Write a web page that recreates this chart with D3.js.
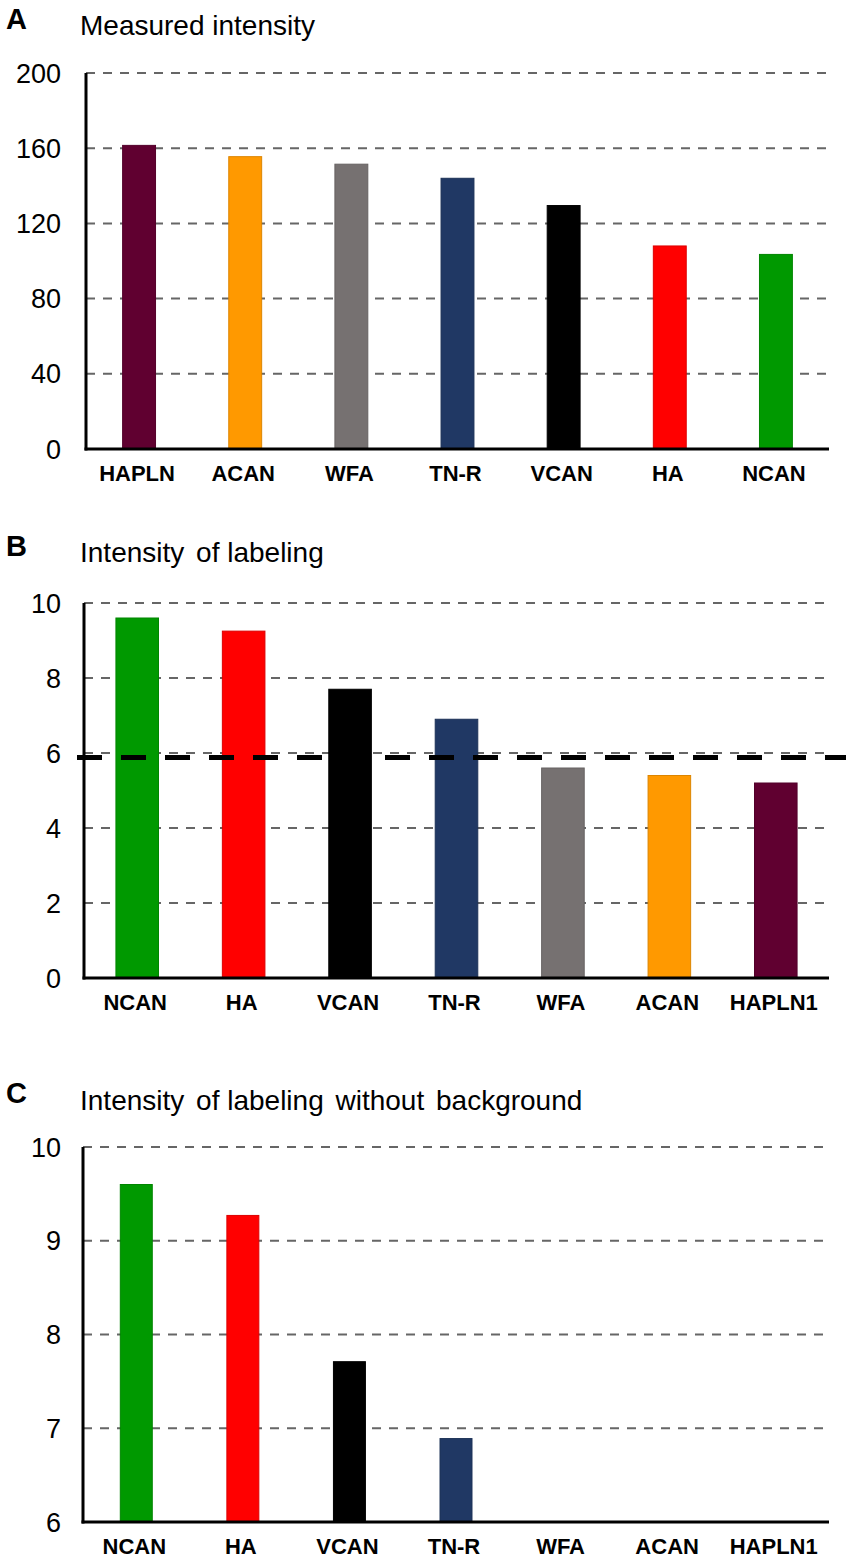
<!DOCTYPE html>
<html>
<head>
<meta charset="utf-8">
<script src="https://cdn.jsdelivr.net/npm/d3@7"></script>
<style>
  body { margin: 0; background: #fff; }
  text { font-family: "Liberation Sans", Arial, sans-serif; }
</style>
</head>
<body>
<div id="chart"></div>
<script>
// Panel A: measured intensity
const catsA = ["HAPLN", "ACAN", "WFA", "TN-R", "VCAN", "HA", "NCAN"];
const valsA = [161.5, 155.5, 151.5, 144, 129.5, 108, 103.5];
const ticksA = [0, 40, 80, 120, 160, 200];

// Panel B: intensity of labeling (with background threshold)
const catsB = ["NCAN", "HA", "VCAN", "TN-R", "WFA", "ACAN", "HAPLN1"];
const valsB = [9.6, 9.25, 7.7, 6.9, 5.6, 5.4, 5.2];
const ticksB = [0, 2, 4, 6, 8, 10];
const thresholdB = 5.88;

// Panel C: intensity of labeling without background
const catsC = ["NCAN", "HA", "VCAN", "TN-R", "WFA", "ACAN", "HAPLN1"];
const valsC = [9.6, 9.27, 7.71, 6.89, 0, 0, 0];
const ticksC = [6, 7, 8, 9, 10];

const colors = {
  HAPLN: "#600030",
  HAPLN1: "#600030",
  ACAN: "#ff9900",
  WFA: "#767171",
  "TN-R": "#203864",
  VCAN: "#000000",
  HA: "#ff0000",
  NCAN: "#009900",
};

const W = 851, H = 1562;
const svg = d3.select("#chart").append("svg")
  .attr("width", W)
  .attr("height", H);

function drawPanel(opt) {
  const g = svg.append("g");
  const x = d3.scaleBand().domain(opt.cats).range([opt.left, 829]);
  const y = d3.scaleLinear().domain(opt.domain).range([opt.bottom, opt.top]);
  const barW = x.step() * opt.barFrac;

  // panel letter + title (title words are split where the original has wide gaps)
  g.append("text")
    .attr("x", 6).attr("y", opt.letterY)
    .attr("font-size", 29).attr("font-weight", "bold")
    .text(opt.letter);
  g.append("text")
    .attr("x", 80).attr("y", opt.titleY)
    .attr("font-size", 28)
    .selectAll("tspan")
    .data(opt.title)
    .enter().append("tspan")
    .attr("dx", (d, i) => (i === 0 ? 0 : 4))
    .text((d, i) => (i === 0 ? d : " " + d));

  // dashed gridlines
  g.selectAll(".grid")
    .data(opt.ticks.filter((t) => t !== opt.domain[0]))
    .enter().append("line")
    .attr("x1", opt.left).attr("x2", 829)
    .attr("y1", (d) => y(d)).attr("y2", (d) => y(d))
    .attr("stroke", "#666")
    .attr("stroke-width", 2)
    .attr("stroke-dasharray", "9,8");

  // tick labels
  g.selectAll(".tick")
    .data(opt.ticks)
    .enter().append("text")
    .attr("x", 61).attr("y", (d) => y(d) + 9.5)
    .attr("text-anchor", "end")
    .attr("font-size", 27)
    .text((d) => d);

  // bars
  g.selectAll(".bar")
    .data(opt.cats.map((c, i) => ({ cat: c, value: opt.vals[i] })))
    .enter().append("rect")
    .attr("x", (d) => x(d.cat) + (x.step() - barW) / 2)
    .attr("y", (d) => y(Math.max(d.value, opt.domain[0])))
    .attr("width", barW)
    .attr("height", (d) => opt.bottom - y(Math.max(d.value, opt.domain[0])))
    .attr("fill", (d) => colors[d.cat])
    .attr("stroke", (d) => d3.color(colors[d.cat]).darker(0.4))
    .attr("stroke-width", 1);

  // threshold line
  if (opt.threshold !== undefined) {
    g.append("line")
      .attr("x1", 77).attr("x2", 846)
      .attr("y1", y(opt.threshold)).attr("y2", y(opt.threshold))
      .attr("stroke", "#000")
      .attr("stroke-width", 5)
      .attr("stroke-dasharray", "25,19");
  }

  // axes
  g.append("line")
    .attr("x1", opt.left).attr("x2", opt.left)
    .attr("y1", opt.top).attr("y2", opt.bottom + 1.5)
    .attr("stroke", "#000").attr("stroke-width", 3);
  g.append("line")
    .attr("x1", opt.left - 1.5).attr("x2", 829)
    .attr("y1", opt.bottom).attr("y2", opt.bottom)
    .attr("stroke", "#000").attr("stroke-width", 3);

  // category labels
  g.selectAll(".cat")
    .data(opt.cats)
    .enter().append("text")
    .attr("x", (d) => x(d) + x.step() / 2 - 2)
    .attr("y", opt.bottom + 32)
    .attr("text-anchor", "middle")
    .attr("font-size", 22).attr("font-weight", "bold")
    .text((d) => d);
}

drawPanel({
  letter: "A", letterY: 29, title: ["Measured intensity"], titleY: 35,
  cats: catsA, vals: valsA, ticks: ticksA, domain: [0, 200],
  left: 86, top: 73, bottom: 449, barFrac: 0.31,
});

drawPanel({
  letter: "B", letterY: 556, title: ["Intensity", "of labeling"], titleY: 562,
  cats: catsB, vals: valsB, ticks: ticksB, domain: [0, 10],
  left: 84, top: 603, bottom: 978, barFrac: 0.4, threshold: thresholdB,
});

drawPanel({
  letter: "C", letterY: 1103, title: ["Intensity", "of labeling", "without", "background"], titleY: 1110,
  cats: catsC, vals: valsC, ticks: ticksC, domain: [6, 10],
  left: 83, top: 1147, bottom: 1522, barFrac: 0.3,
});
</script>
</body>
</html>
